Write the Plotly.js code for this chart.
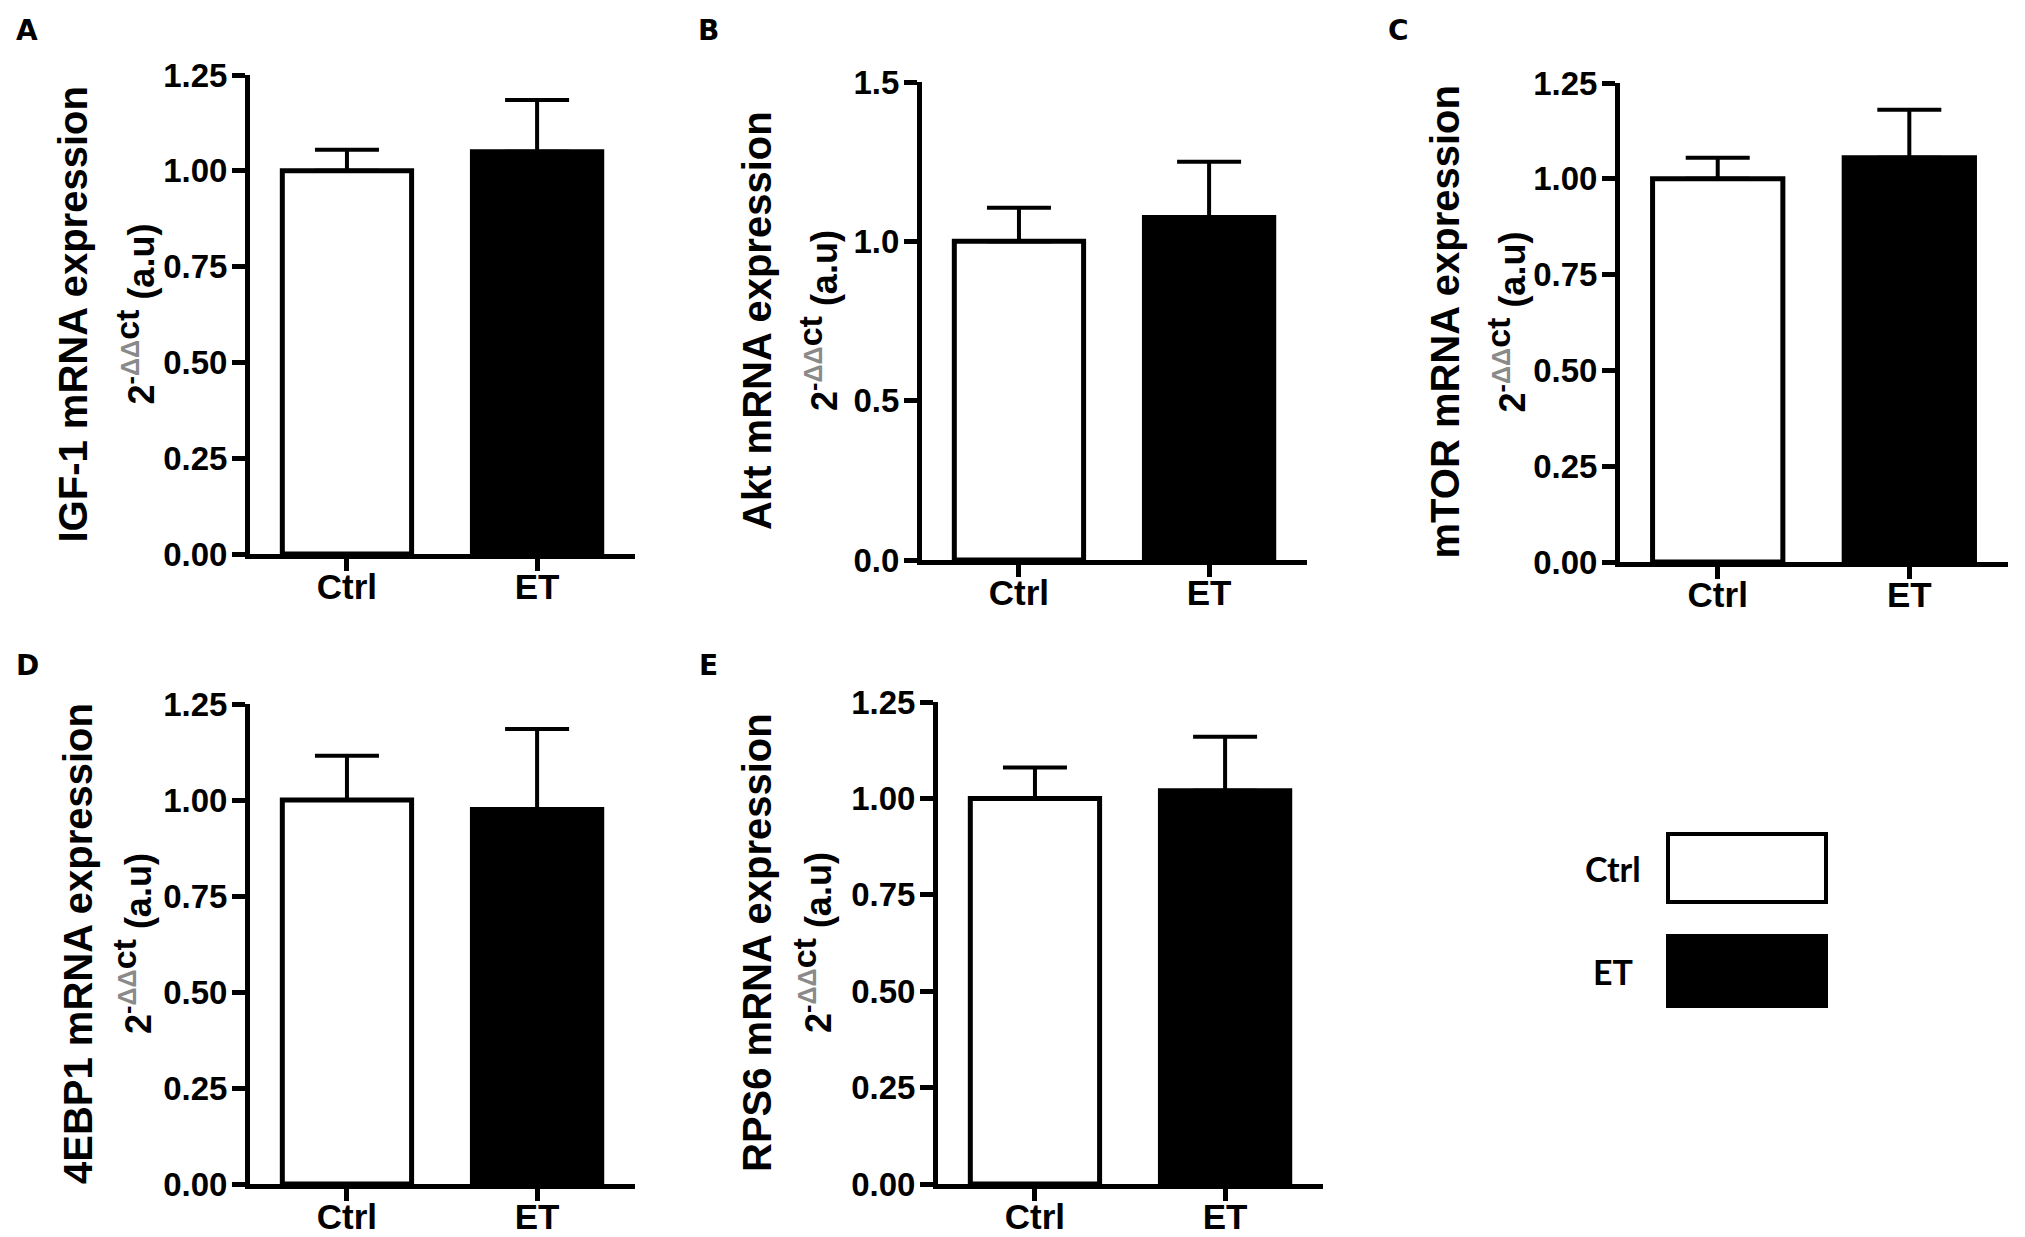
<!DOCTYPE html>
<html>
<head>
<meta charset="utf-8">
<script src="https://cdn.plot.ly/plotly-3.0.1.min.js"></script>
<style>
  html, body { margin: 0; padding: 0; background: #fff; }
  #chart { width: 2025px; height: 1237px; }
</style>
</head>
<body>
<div id="chart"></div>
<script>
// values (mean and upper error, arbitrary units)
const panelLetters = ['A', 'B', 'C', 'D', 'E'];
const genes = ['IGF-1', 'Akt', 'mTOR', '4EBP1', 'RPS6'];
const groups = ['Ctrl', 'ET'];
const ctrlMean = [1.00, 1.00, 1.00, 1.00, 1.00];
const ctrlErr = [0.055, 0.105, 0.055, 0.115, 0.08];
const etMean = [1.05, 1.075, 1.055, 0.975, 1.02];
const etErr = [0.135, 0.175, 0.125, 0.21, 0.14];
const yMax = [1.25, 1.5, 1.25, 1.25, 1.25];
const yStep = [0.25, 0.5, 0.25, 0.25, 0.25];
const yFormat = ['.2f', '.1f', '.2f', '.2f', '.2f'];

const W = 2025, H = 1237;
const px = x => x / W;
const py = y => 1 - y / H;

// plot boxes in page pixels: left axis, right end, top tick, zero line
const boxes = [
    { l: 250, r: 635, t: 75, b: 554 },
    { l: 922, r: 1307, t: 82, b: 560 },
    { l: 1620, r: 2008, t: 83, b: 562 },
    { l: 250, r: 635, t: 704, b: 1184 },
    { l: 938, r: 1323, t: 702, b: 1184 },
];
// distance from the y axis to the two title lines
const titleOffset = [[178, 116], [165, 104], [175, 114], [172, 118], [181, 126]];
const letterPos = [[27, 30], [708, 30], [1398, 30], [27, 665], [708, 665]];

const black = '#000000';
const arial = 'Liberation Sans, Arial, sans-serif';
const yTickFont = { family: arial, size: 33, color: black, weight: 'bold' };
const xTickFont = { family: arial, size: 35, color: black, weight: 'bold' };
const titleFont = { family: arial, size: 40, color: black, weight: 'bold' };
const unitText = '2<sup>-<span style="color:#8a8a8a">ΔΔ</span>' +
    '<span style="font-size:34px">ct</span></sup> (a.u)';

const traces = [];
const layout = {
    width: W, height: H,
    margin: { l: 0, r: 0, t: 0, b: 0 },
    paper_bgcolor: '#ffffff', plot_bgcolor: '#ffffff',
    showlegend: false,
    annotations: [], shapes: [],
};

genes.forEach((gene, i) => {
    const n = i === 0 ? '' : String(i + 1);
    const bx = boxes[i];
    traces.push({
        type: 'bar',
        x: groups,
        y: [ctrlMean[i], etMean[i]],
        xaxis: 'x' + n, yaxis: 'y' + n,
        width: 0.68,
        marker: { color: ['#ffffff', black], line: { color: black, width: 5 } },
        error_y: {
            type: 'data', symmetric: false,
            array: [ctrlErr[i], etErr[i]], arrayminus: [0, 0],
            color: black, thickness: 4, width: 32,
        },
        hoverinfo: 'skip',
    });
    layout['xaxis' + n] = {
        domain: [px(bx.l), px(bx.r)], anchor: 'y' + n,
        type: 'category', range: [-0.51, 1.515],
        showline: true, linecolor: black, linewidth: 5,
        ticks: 'outside', ticklen: 12, tickwidth: 5, tickcolor: black,
        ticklabelstandoff: -14,
        tickfont: xTickFont, showgrid: false, zeroline: false, fixedrange: true,
    };
    layout['yaxis' + n] = {
        domain: [py(bx.b), py(bx.t)], anchor: 'x' + n,
        range: [0, yMax[i]], tick0: 0, dtick: yStep[i], tickformat: yFormat[i],
        showline: true, linecolor: black, linewidth: 5,
        ticks: 'outside', ticklen: 13, tickwidth: 5, tickcolor: black,
        ticklabelstandoff: -2,
        tickfont: yTickFont, showgrid: false, zeroline: false, fixedrange: true,
    };
    const midY = py((bx.t + bx.b) / 2);
    layout.annotations.push({
        xref: 'paper', yref: 'paper', x: px(bx.l - titleOffset[i][0]), y: midY,
        text: gene + ' mRNA expression', textangle: -90, showarrow: false,
        xanchor: 'center', yanchor: 'middle', font: titleFont,
    });
    layout.annotations.push({
        xref: 'paper', yref: 'paper', x: px(bx.l - titleOffset[i][1]), y: midY,
        text: unitText, textangle: -90, showarrow: false,
        xanchor: 'center', yanchor: 'middle',
        font: { family: arial, size: 36, color: black, weight: 'bold' },
    });
    layout.annotations.push({
        xref: 'paper', yref: 'paper',
        x: px(letterPos[i][0]), y: py(letterPos[i][1]),
        text: panelLetters[i], showarrow: false,
        xanchor: 'center', yanchor: 'middle',
        font: { family: 'DejaVu Sans', size: 28, color: black, weight: 'bold' },
    });
});

// key in the empty sixth slot
const keyFill = ['#ffffff', black];
const keyBoxes = [[1668, 834, 1826, 902], [1668, 936, 1826, 1006]];
groups.forEach((g, k) => {
    const [x0, y0, x1, y1] = keyBoxes[k];
    layout.shapes.push({
        type: 'rect', xref: 'paper', yref: 'paper',
        x0: px(x0), x1: px(x1), y0: py(y1), y1: py(y0),
        fillcolor: keyFill[k], line: { color: black, width: 4 },
    });
    layout.annotations.push({
        xref: 'paper', yref: 'paper', x: px(1613), y: py((y0 + y1) / 2),
        text: g, showarrow: false, xanchor: 'center', yanchor: 'middle',
        font: { family: 'Lato', size: 34, color: black, weight: 'bold' },
    });
});

Plotly.newPlot('chart', traces, layout, { displayModeBar: false, staticPlot: true });
</script>
</body>
</html>
